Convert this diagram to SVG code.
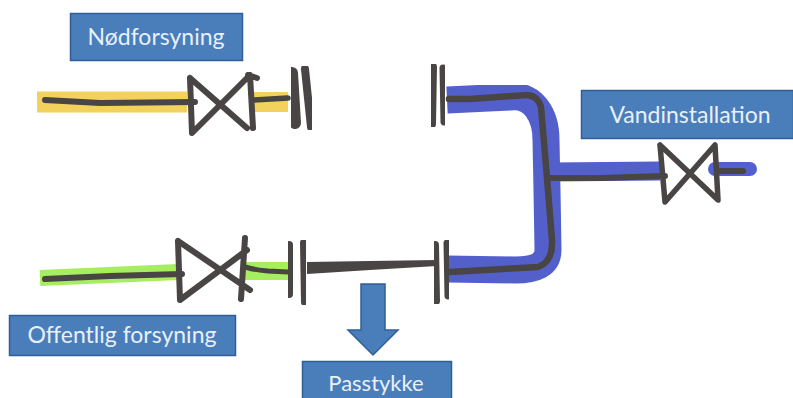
<svg xmlns="http://www.w3.org/2000/svg" width="793" height="398" viewBox="0 0 793 398">
<defs><filter id="soft" x="-5%" y="-5%" width="110%" height="110%"><feGaussianBlur stdDeviation="0.6"/></filter></defs>
<style>
.box{fill:#4a7ebb;stroke:#2f5f96;stroke-width:1.5}
.lbl{font-family:Lato,"Liberation Sans",sans-serif;font-size:23px;fill:#e8f0fa;text-anchor:middle}
.ink{fill:none;stroke:#494445;stroke-linecap:round;stroke-linejoin:round}
.hl{fill:none;stroke-linejoin:round}
.yellow{stroke:#f2d25c}
.green{stroke:#a6ee5e}
.blue{stroke:#5361cc}
</style>
<rect width="793" height="398" fill="#fff"/>
<g id="connectors" filter="url(#soft)">
<path class="hl yellow" d="M37 102L187 102" stroke-width="21"/>
<path class="hl yellow" d="M250 102L288 102" stroke-width="20"/>
<path class="hl green" d="M40 278L178 272" stroke-width="16"/>
<path class="hl green" d="M244 271L288 271" stroke-width="18"/>
<path class="hl blue" d="M447 100L510 97C533 94 546 115 546 140L547 190L548 250C548 265 535 270 515 270L447 269" stroke-width="27"/>
<path class="hl blue" d="M550 172L660 171" stroke-width="19"/>
<path class="hl blue" d="M715 169L750 169" stroke-width="14" stroke-linecap="round"/>
<path class="ink" d="M45 100L100 103L195 102" stroke-width="6"/>
<path class="ink" d="M254 100L288 98" stroke-width="5.500"/>
<path class="ink" d="M45 279L110 276L182 274" stroke-width="6"/>
<path class="ink" d="M245 267Q255 270 268 271L288 272" stroke-width="5"/>
<polygon points="307,262 370,261 437,260 437,266 370,270 307,274" fill="#494445"/>
<path class="ink" d="M449 99L470 99L527 95Q538 96 541 107L547 178L552 240Q553 262 538 267L450 272" stroke-width="6.500"/>
<path class="ink" d="M547 178L600 178L665 176" stroke-width="6"/>
<path class="ink" d="M718 171L743 171" stroke-width="6"/>
</g>
<g id="valve-nodforsyning" filter="url(#soft)"><path class="ink" d="M190 78L192 133L250 75L253 128M190 78L247 128M248 75L257 78" stroke-width="6"/></g>
<g id="valve-offentlig" filter="url(#soft)"><path class="ink" d="M178 241L180 300L247 250M178 241L250 290M245 238L241 299" stroke-width="6"/></g>
<g id="valve-vandinstallation" filter="url(#soft)"><path class="ink" d="M660 145L665 202L715 145L718 200L660 145" stroke-width="5.500"/></g>
<g id="flange-top-left" filter="url(#soft)">
<path class="ink" d="M292 73L295 123" stroke-width="12"/>
<path class="ink" d="M305 69L311 127" stroke-width="8"/>
</g>
<g id="flange-bottom-left" filter="url(#soft)">
<path class="ink" d="M289 245L289 294" stroke-width="8"/>
<path class="ink" d="M304 243L305 302" stroke-width="8"/>
</g>
<g id="flange-top-right" filter="url(#soft)">
<path class="ink" d="M433 67L432 124" stroke-width="8"/>
<path class="ink" d="M443 68L444 122" stroke-width="7"/>
</g>
<g id="flange-bottom-right" filter="url(#soft)">
<path class="ink" d="M435 245L436 301" stroke-width="8"/>
<path class="ink" d="M447 243L448 296" stroke-width="7"/>
</g>
<g id="nodforsyning"><rect class="box" x="70.500" y="13.500" width="172" height="47"/><text class="lbl" x="156" y="45">Nødforsyning</text></g>
<g id="offentlig-forsyning"><rect class="box" x="9.500" y="315.500" width="226" height="40"/><text class="lbl" x="122" y="343">Offentlig forsyning</text></g>
<g id="vandinstallation"><rect class="box" x="581.500" y="90.500" width="212" height="48"/><text class="lbl" x="690" y="123">Vandinstallation</text></g>
<g id="passtykke"><rect class="box" x="302.500" y="361.500" width="149" height="40"/><text class="lbl" x="376" y="391" style="font-size:22px">Passtykke</text></g>
<g id="arrow"><polygon class="box" points="361,284 385,284 385,330 398,330 373,355 348,330 361,330"/></g>
</svg>
